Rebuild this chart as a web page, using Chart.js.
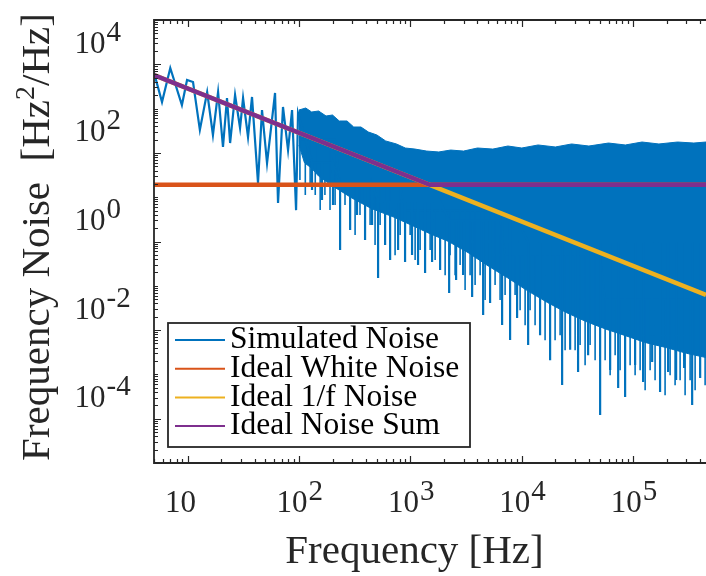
<!DOCTYPE html>
<html>
<head>
<meta charset="utf-8">
<script src="https://cdn.jsdelivr.net/npm/chart.js"></script>
<style>
  html, body { margin: 0; padding: 0; background: #fff; }
</style>
</head>
<body>
<canvas id="noiseChart" width="706" height="576"></canvas>
<script>
// Simulated spectrum below ~100 Hz, read point by point (Hz, Hz^2/Hz)
const lowFreq = [5.0, 5.9, 7.0, 8.9, 9.9, 11.2, 12.9, 15.0, 16.9, 18.8, 20.8, 22.6, 24.1, 26.7,
  29.6, 31.5, 34.9, 37.9, 42.9, 46.6, 51.7, 61.0, 64.9, 71.9, 79.8, 86.7, 94.2, 98.1];
const lowVals = [6500, 1410, 8240, 1200, 4430, 3980, 330, 2370, 254, 2370, 136, 1730, 167, 2030,
  365, 1730, 229, 1830, 21, 929, 59, 2250, 7.4, 1090, 116, 929, 5.1, 800];

// Above ~100 Hz the trace is a solid band: upper edge and lower edge
const bandTopFreq = [100, 115, 130, 150, 175, 200, 230, 270, 310, 360, 420, 500, 600, 750, 900,
  1100, 1400, 1800, 2300, 3000, 4000, 5500, 7500, 10000, 14000, 20000, 28000, 40000, 60000,
  85000, 120000, 170000, 250000, 350000, 450000];
const bandTopVals = [929, 1031, 838, 883, 681, 717, 525, 525, 384, 384, 296, 254, 186, 159, 129,
  122, 110, 105, 116, 110, 129, 122, 143, 129, 151, 136, 159, 143, 167,
  151, 176, 159, 176, 167, 176];
const bandLowFreq = [100, 112, 130, 150, 200, 300, 450, 700, 1000, 1500, 2200, 3300, 5000, 7500,
  11000, 17000, 25000, 38000, 57000, 85000, 130000, 200000, 300000, 450000];
const bandLowVals = [150, 60, 45, 30, 18, 9.5, 5.5, 3.6, 2.4, 1.5, 1.0, 0.56, 0.28, 0.15,
  0.08, 0.042, 0.025, 0.0155, 0.0105, 0.0075, 0.0052, 0.004, 0.003, 0.0024];

// Deep downward spikes under the band (start inside the band, end at the tip)
const spikeFreq = [131, 161, 202, 234, 288, 332, 392, 453, 513, 593, 658, 776, 896, 1035, 1172,
  1355, 1566, 1849, 2228, 2573, 2974, 3583, 4498, 5193, 6657, 7852, 9075, 11400, 14590, 17950,
  23010, 27160, 32000, 39370, 50470, 62090, 73280, 84590, 104000, 122700, 147900, 174200,
  205600, 242700, 286400, 338000, 398900];
const spikeFrom = [60, 60, 60, 20, 20, 20, 20, 20, 8, 8, 8, 8, 8, 8, 8,
  8, 8, 8, 3, 3, 3, 3, 3, 3, 3, 3, 3, 1, 1, 1,
  1, 1, 1, 1, 1, 1, 1, 1, 1, 1, 1, 1,
  1, 1, 1, 1, 1];
const spikeTo = [14.5, 8.6, 6.7, 0.64, 1.82, 3.96, 1.08, 2.36, 0.15, 0.83, 0.38, 0.64, 0.344, 0.495, 0.295,
  0.195, 0.344, 0.227, 0.069, 0.135, 0.175, 0.056, 0.022, 0.041, 0.013, 0.006, 0.0188, 0.0046, 0.0077, 0.0021,
  0.00058, 0.0036, 0.00113, 0.0027, 0.000121, 0.00126, 0.00049, 0.00031, 0.00163, 0.00067, 0.0019, 0.0004,
  0.00113, 0.00075, 0.0014, 0.000204, 0.00083];

// Shorter dense spikes that make the ragged lower edge of the band
const grassFreq = [102, 114, 126, 140, 155, 171, 190, 211, 234, 259, 288, 319, 353, 392, 435, 482,
  535, 593, 658, 729, 809, 897, 995, 1103, 1223, 1356, 1504, 1668, 1849, 2051, 2272, 2520, 2794,
  3098, 3435, 3810, 4225, 4686, 5193, 5758, 6385, 7081, 7852, 8707, 9655, 10710, 11870, 13160,
  14590, 16180, 17950, 19900, 22070, 24470, 27140, 30100, 33370, 37000, 41030, 45500, 50470,
  55960, 62060, 68820, 76250, 84560, 93780, 104000, 115300, 127900, 141800, 157100, 174200,
  193200, 214300, 237600, 263500, 292200, 324100, 359400, 398600, 441900];
const grassFrom = [200, 200, 200, 200, 200, 200, 200, 200, 20, 20, 20, 20, 20, 20, 20, 20,
  20, 20, 20, 20, 20, 5, 5, 5, 5, 5, 5, 5, 5, 5, 5, 5, 5,
  5, 5, 5, 5, 5, 5, 5, 5, 0.5, 0.5, 0.5, 0.5, 0.5, 0.5, 0.5,
  0.5, 0.5, 0.5, 0.5, 0.5, 0.5, 0.5, 0.5, 0.5, 0.5, 0.5, 0.5, 0.5,
  0.05, 0.05, 0.05, 0.05, 0.05, 0.05, 0.05, 0.05, 0.05, 0.05, 0.05, 0.05,
  0.05, 0.05, 0.05, 0.05, 0.05, 0.05, 0.05, 0.05, 0.05];
const grassTo = [24.5, 11.2, 18.9, 11.2, 5.14, 11.2, 5.14, 6.66, 3.05, 6.66, 3.05, 1.40, 3.96, 1.82, 2.35, 0.83,
  2.35, 0.83, 1.40, 0.49, 1.40, 0.83, 1.40, 0.38, 0.64, 0.226, 0.64, 0.38, 0.38, 0.174, 0.49, 0.174, 0.293,
  0.080, 0.174, 0.104, 0.174, 0.0475, 0.080, 0.104, 0.0475, 0.0616, 0.0218, 0.0616, 0.0282, 0.0129, 0.0282, 0.0129,
  0.0168, 0.0059, 0.0168, 0.0059, 0.0077, 0.0035, 0.0077, 0.0035, 0.0046, 0.0016, 0.0046, 0.0021, 0.0027,
  0.0021, 0.00096, 0.0027, 0.00124, 0.00057, 0.0016, 0.00096, 0.00124, 0.00044, 0.00124, 0.00074, 0.00096,
  0.00034, 0.00096, 0.00057, 0.00074, 0.00034, 0.00074, 0.00044, 0.00096, 0.00057];

// Ideal curves
const whiteFreq = [5, 450000];
const whiteVals = [19, 19];
const flickerFreq = [5, 450000];
const flickerVals = [5700, 0.062];
const sumFreq = [5, 1490, 450000];
const sumVals = [5700, 19, 19];

// Axis ticks
const xTicks = [10, 100, 1000, 10000, 100000];
const yTicks = [1e-4, 1e-2, 1, 1e2, 1e4];

const BLUE = '#0072BD', ORANGE = '#D95319', YELLOW = '#EDB120', PURPLE = '#7E2F8E';
const INK = '#262626';
const SERIF = '"Liberation Serif", "Times New Roman", serif';

function pairs(xs, ys) {
  return xs.map((x, i) => ({ x: x, y: ys[i] }));
}

// vertical strokes: down to the tip and back up, joined inside the band
function strokes(freqs, from, to) {
  const out = [];
  freqs.forEach((f, i) => {
    out.push({ x: f, y: from[i] }, { x: f, y: to[i] }, { x: f, y: from[i] });
  });
  return out;
}

// closed outline of the band: upper edge left to right, lower edge back
const bandShape = pairs(bandTopFreq, bandTopVals).concat(pairs(bandLowFreq, bandLowVals).reverse());
const simulated = pairs(lowFreq, lowVals).concat(strokes(spikeFreq, spikeFrom, spikeTo));
const grass = strokes(grassFreq, grassFrom, grassTo);

// ticks, frame, labels, legend
const axesPlugin = {
  id: 'matlabAxes',
  afterDatasetsDraw(chart) {
    const { ctx, chartArea: a, scales: { x, y } } = chart;
    ctx.save();
    ctx.strokeStyle = INK;
    ctx.lineWidth = 1.2;
    ctx.beginPath();
    for (let d = 0; d <= 5; d++) {
      for (let m = 1; m <= 9; m++) {
        const v = m * Math.pow(10, d);
        if (v < x.min || v > x.max) continue;
        const px = Math.round(x.getPixelForValue(v)) + 0.5;
        const len = m === 1 ? 7 : 4;
        ctx.moveTo(px, a.bottom); ctx.lineTo(px, a.bottom - len);
        ctx.moveTo(px, a.top); ctx.lineTo(px, a.top + len);
      }
    }
    for (let d = -5; d <= 5; d++) {
      for (let m = 1; m <= 9; m++) {
        const v = m * Math.pow(10, d);
        if (v < y.min || v > y.max) continue;
        const py = Math.round(y.getPixelForValue(v)) + 0.5;
        const len = (m === 1 && d % 2 === 0) ? 7 : 4;
        ctx.moveTo(a.left, py); ctx.lineTo(a.left + len, py);
      }
    }
    ctx.stroke();

    ctx.lineWidth = 1.8;
    ctx.beginPath();
    ctx.moveTo(a.right + 2, a.top);
    ctx.lineTo(a.left, a.top);
    ctx.lineTo(a.left, a.bottom);
    ctx.lineTo(a.right + 2, a.bottom);
    ctx.stroke();
    ctx.restore();
  },
  afterDraw(chart) {
    const { ctx, scales: { x, y } } = chart;
    ctx.save();
    ctx.fillStyle = INK;
    ctx.textAlign = 'left';
    ctx.textBaseline = 'alphabetic';

    // tick labels as 10 with raised exponent
    const base = '31px ' + SERIF;
    const sup = '29px ' + SERIF;
    xTicks.forEach(v => {
      const px = x.getPixelForValue(v);
      const exp = Math.round(Math.log10(v));
      ctx.font = base;
      ctx.fillText('10', px - 22.5, 511.5);
      if (exp !== 1) {
        const w = ctx.measureText('10').width;
        ctx.font = sup;
        ctx.fillText(String(exp), px - 22.5 + w + 1, 500);
      }
    });
    yTicks.forEach(v => {
      const py = y.getPixelForValue(v);
      const exp = Math.round(Math.log10(v));
      ctx.font = base;
      ctx.fillText('10', 74.5, py - 11.5);
      const w = ctx.measureText('10').width;
      ctx.font = sup;
      ctx.fillText(String(exp), 74.5 + w + 1, py - 23.5);
    });

    // axis titles
    ctx.font = '41px ' + SERIF;
    ctx.textAlign = 'center';
    ctx.fillText('Frequency [Hz]', 414.5, 563);

    ctx.save();
    ctx.translate(49, 237);
    ctx.rotate(-Math.PI / 2);
    ctx.textAlign = 'left';
    const parts = [['Frequency Noise  [Hz', 41, 0], ['2', 28, -15], ['/Hz]', 41, 0]];
    let total = 0;
    parts.forEach(p => { ctx.font = p[1] + 'px ' + SERIF; total += ctx.measureText(p[0]).width; });
    let cx = -total / 2;
    parts.forEach(p => {
      ctx.font = p[1] + 'px ' + SERIF;
      ctx.fillText(p[0], cx, p[2]);
      cx += ctx.measureText(p[0]).width;
    });
    ctx.restore();

    // legend box inside the axes
    const box = { left: 168, top: 323, right: 470, bottom: 447 };
    ctx.fillStyle = '#ffffff';
    ctx.fillRect(box.left, box.top, box.right - box.left, box.bottom - box.top);
    ctx.strokeStyle = INK;
    ctx.lineWidth = 1.8;
    ctx.strokeRect(box.left, box.top, box.right - box.left, box.bottom - box.top);
    const rows = chart.data.datasets.filter(ds => ds.label);
    ctx.font = '31.5px ' + SERIF;
    ctx.textAlign = 'left';
    rows.forEach((ds, i) => {
      const ly = box.top + 17 + i * 28.7;
      ctx.strokeStyle = ds.borderColor;
      ctx.lineWidth = 2;
      ctx.beginPath();
      ctx.moveTo(175, ly);
      ctx.lineTo(225, ly);
      ctx.stroke();
      ctx.fillStyle = '#000000';
      ctx.fillText(ds.label, 230, box.top + 25.3 + i * 28.7);
    });
    ctx.restore();
  }
};

new Chart(document.getElementById('noiseChart').getContext('2d'), {
  type: 'line',
  data: {
    datasets: [
      { label: 'Simulated Noise', data: simulated, borderColor: BLUE, borderWidth: 2.2, order: 3 },
      { label: 'Ideal White Noise', data: pairs(whiteFreq, whiteVals), borderColor: ORANGE, borderWidth: 4.5, order: 2 },
      { label: 'Ideal 1/f Noise', data: pairs(flickerFreq, flickerVals), borderColor: YELLOW, borderWidth: 4.5, order: 1 },
      { label: 'Ideal Noise Sum', data: pairs(sumFreq, sumVals), borderColor: PURPLE, borderWidth: 4.5, order: 0 },
      { label: '', data: grass, borderColor: BLUE, borderWidth: 1.6, order: 4 },
      { label: '', data: bandShape, fill: 'shape', backgroundColor: BLUE, borderColor: BLUE, borderWidth: 1, order: 5 }
    ]
  },
  options: {
    responsive: false,
    animation: false,
    events: [],
    layout: { padding: { left: 154, top: 20, right: 0, bottom: 113 } },
    elements: { point: { radius: 0 }, line: { tension: 0 } },
    datasets: { line: { clip: 0 } },
    plugins: { legend: { display: false }, tooltip: { enabled: false } },
    scales: {
      x: { type: 'logarithmic', min: 5, max: 450000, display: false },
      y: { type: 'logarithmic', min: 1e-5, max: 1e5, display: false }
    }
  },
  plugins: [axesPlugin]
});
</script>
</body>
</html>
